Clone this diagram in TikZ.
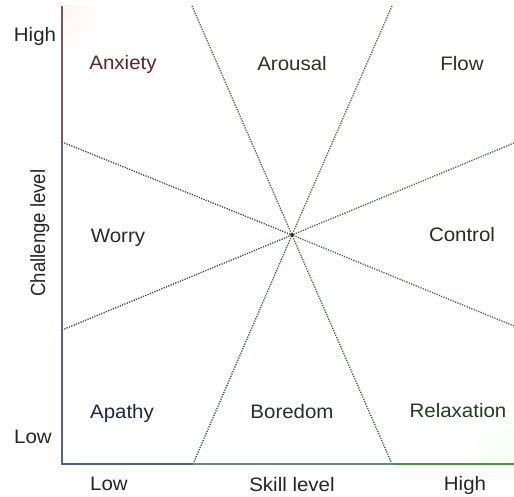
\documentclass[tikz,border=0pt]{standalone}
\usepackage{fontspec}
\setmainfont{Liberation Sans}
\begin{document}
\begin{tikzpicture}[x=1pt,y=-1pt,
  lbl/.style={font=\fontsize{19.5}{22}\selectfont, anchor=base, inner sep=0pt, xscale=1.05},
  ray/.style={line width=1.3pt, dash pattern=on 1.2pt off 1.3pt},
  axisline/.style={line width=2pt}]
\useasboundingbox (0,0) rectangle (514,496);
\fill[white] (0,0) rectangle (514,496);
% faint corner tints
\shade[inner color=red!4, outer color=white] (63,6) circle (45);
\fill[white] (0,0) rectangle (62,60);
\fill[white] (0,0) rectangle (514,5);
\shade[inner color=green!5, outer color=white] (514,463) circle (50);
\fill[white] (0,465) rectangle (514,496);

% coordinates
\coordinate (c) at (292,235);
\coordinate (t1) at (192,6);
\coordinate (t2) at (392,6);
\coordinate (l1) at (62,142);
\coordinate (l2) at (62,330);
\coordinate (r1) at (514,143);
\coordinate (r2) at (514,326);
\coordinate (b1) at (193,464);
\coordinate (b2) at (392,464);
\coordinate (o) at (62,464);
\coordinate (top) at (62,6);
\coordinate (xe) at (514,464);

% rays
\draw[ray, color={rgb,255:red,90;green,85;blue,40}] (t1) -- (c);
\draw[ray, color={rgb,255:red,85;green,95;blue,40}] (t2) -- (c);
\draw[ray, color={rgb,255:red,85;green,50;blue,80}] (l1) -- (c);
\draw[ray, color={rgb,255:red,60;green,60;blue,100}] (l2) -- (c);
\draw[ray, color={rgb,255:red,70;green,100;blue,45}] (r1) -- (c);
\draw[ray, color={rgb,255:red,60;green,100;blue,55}] (r2) -- (c);
\draw[ray, color={rgb,255:red,45;green,80;blue,80}] (b1) -- (c);
\draw[ray, color={rgb,255:red,45;green,100;blue,55}] (b2) -- (c);
\fill[black!85] (c) circle (1.8);

% axes
\draw[axisline, color={rgb,255:red,120;green,85;blue,95}] (top) -- (l1);
\draw[axisline, color={rgb,255:red,100;green,100;blue,125}] (l1) -- (l2);
\draw[axisline, color={rgb,255:red,80;green,100;blue,140}] (l2) -- (o);
\draw[axisline, color={rgb,255:red,75;green,95;blue,145}, line cap=rect] (o) -- (b1);
\draw[axisline, color={rgb,255:red,100;green,140;blue,120}] (b1) -- (b2);
\draw[axisline, color={rgb,255:red,75;green,150;blue,65}] (b2) -- (xe);

% axis labels
\node[lbl, text=black!85] (hi) at (35,41) {High};
\node[lbl, text=black!85] (lo) at (33,443) {Low};
\node[lbl, text=black!85] (xlo) at (109,490) {Low};
\node[lbl, text=black!85] (sk) at (292,491) {Skill level};
\node[lbl, text=black!85] (xhi) at (465,490) {High};
\node[lbl, text=black!85, rotate=90, xscale=1/1.05] (ch) at (45,233) {Challenge level};

% region labels
\node[lbl, text={rgb,255:red,95;green,35;blue,40}] (anx) at (123,69) {Anxiety};
\node[lbl, text={rgb,255:red,50;green,50;blue,35}] (aro) at (292,70) {Arousal};
\node[lbl, text={rgb,255:red,45;green,50;blue,35}] (flo) at (462,70) {Flow};
\node[lbl, text={rgb,255:red,40;green,40;blue,55}] (wor) at (118,242) {Worry};
\node[lbl, text={rgb,255:red,40;green,45;blue,35}] (con) at (462,241) {Control};
\node[lbl, text={rgb,255:red,30;green,40;blue,70}] (apa) at (122,418) {Apathy};
\node[lbl, text={rgb,255:red,40;green,45;blue,45}] (bor) at (292,418) {Boredom};
\node[lbl, text={rgb,255:red,35;green,60;blue,35}] (rel) at (458,417) {Relaxation};
\end{tikzpicture}
\end{document}
